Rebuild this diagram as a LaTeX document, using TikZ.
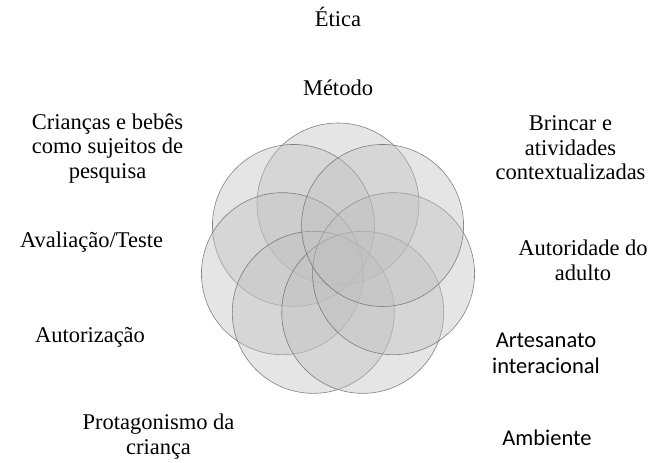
\documentclass[tikz,border=0pt]{standalone}
\usepackage{fontspec}
\usetikzlibrary{calc}
\setmainfont{Liberation Serif}
\newfontfamily\calib{Carlito}
\begin{document}
\begin{tikzpicture}[x=1pt,y=-1pt,
  petal/.style={circle,minimum size=162pt,inner sep=0pt,fill=black!25,fill opacity=0.4,draw=black!60,draw opacity=0.8,line width=0.6pt},
  lbl/.style={inner sep=0pt,align=center,font=\fontsize{22.5}{24.5}\selectfont,anchor=base},
  slbl/.style={inner sep=0pt,align=center,font=\calib\fontsize{22.5}{26}\selectfont,anchor=base}]
\useasboundingbox (0,0) rectangle (657,463);
\coordinate (c) at (338,261);
\foreach \i in {0,...,6}{
  \node[petal] (p\i) at ($(c)+({90+\i*360/7}:57 and -57)$) {};
}
\node[lbl] (etica) at (338,27) {Ética};
\node[lbl] (metodo) at (338,95) {Método};
\node[lbl] (criancas) at (107.5,178) {Crianças e bebês\\como sujeitos de\\pesquisa};
\node[lbl] (brincar) at (570.5,179.5) {Brincar e\\atividades\\contextualizadas};
\node[lbl] (avaliacao) at (91.5,247) {Avaliação/Teste};
\node[lbl] (autoridade) at (583,280) {Autoridade do\\adulto};
\node[lbl] (autorizacao) at (90,342) {Autorização};
\node[slbl] (artesanato) at (546,373) {Artesanato\\interacional};
\node[lbl] (protagonismo) at (158.5,454) {Protagonismo da\\criança};
\node[slbl] (ambiente) at (547,445) {Ambiente};
\end{tikzpicture}
\end{document}
